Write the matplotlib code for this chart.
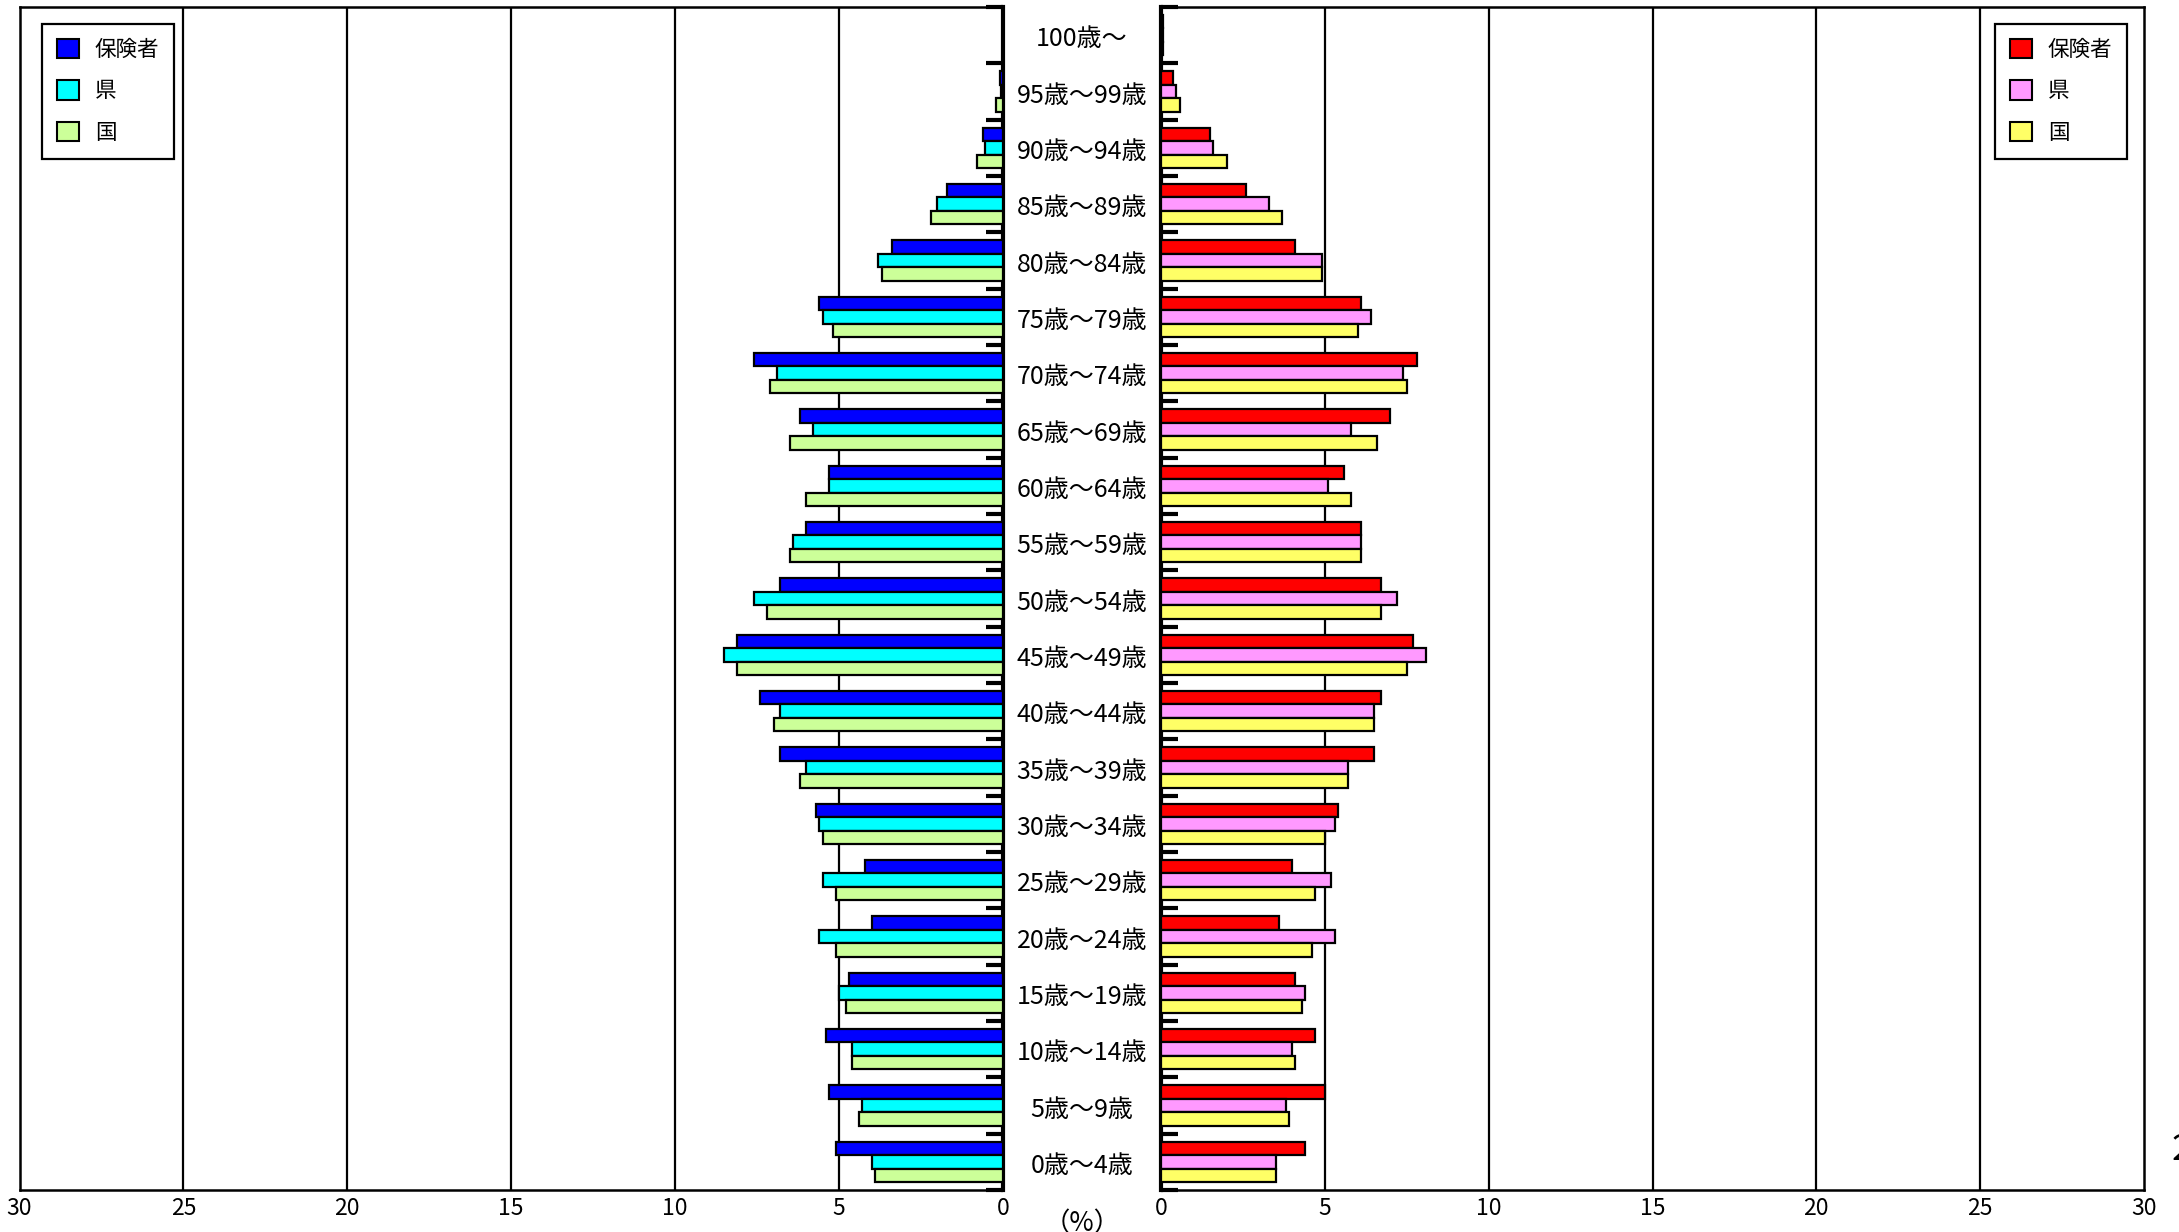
import numpy as np
import matplotlib
matplotlib.use('Agg')
import matplotlib.pyplot as plt
from matplotlib.patches import Patch

plt.rcParams['font.family'] = ['Noto Sans CJK JP', 'DejaVu Sans']

# 年齢区分 (下から上へ)
ages = ['0歳～4歳', '5歳～9歳', '10歳～14歳', '15歳～19歳', '20歳～24歳',
        '25歳～29歳', '30歳～34歳', '35歳～39歳', '40歳～44歳', '45歳～49歳',
        '50歳～54歳', '55歳～59歳', '60歳～64歳', '65歳～69歳', '70歳～74歳',
        '75歳～79歳', '80歳～84歳', '85歳～89歳', '90歳～94歳', '95歳～99歳',
        '100歳～']

# 左側 (%)
left_hoken = [5.1, 5.3, 5.4, 4.7, 4.0, 4.2, 5.7, 6.8, 7.4, 8.1,
              6.8, 6.0, 5.3, 6.2, 7.6, 5.6, 3.4, 1.7, 0.6, 0.1, 0.0]
left_ken = [4.0, 4.3, 4.6, 5.0, 5.6, 5.5, 5.6, 6.0, 6.8, 8.5,
            7.6, 6.4, 5.3, 5.8, 6.9, 5.5, 3.8, 2.0, 0.55, 0.07, 0.0]
left_kuni = [3.9, 4.4, 4.6, 4.8, 5.1, 5.1, 5.5, 6.2, 7.0, 8.1,
             7.2, 6.5, 6.0, 6.5, 7.1, 5.2, 3.7, 2.2, 0.8, 0.2, 0.0]

# 右側 (%)
right_hoken = [4.4, 5.0, 4.7, 4.1, 3.6, 4.0, 5.4, 6.5, 6.7, 7.7,
               6.7, 6.1, 5.6, 7.0, 7.8, 6.1, 4.1, 2.6, 1.5, 0.38, 0.07]
right_ken = [3.5, 3.8, 4.0, 4.4, 5.3, 5.2, 5.3, 5.7, 6.5, 8.1,
             7.2, 6.1, 5.1, 5.8, 7.4, 6.4, 4.9, 3.3, 1.6, 0.47, 0.05]
right_kuni = [3.5, 3.9, 4.1, 4.3, 4.6, 4.7, 5.0, 5.7, 6.5, 7.5,
              6.7, 6.1, 5.8, 6.6, 7.5, 6.0, 4.9, 3.7, 2.0, 0.58, 0.07]

series_names = ['保険者', '県', '国']
left_colors = ['#0000FF', '#00FFFF', '#CCFF99']
right_colors = ['#FF0000', '#FF99FF', '#FFFF66']
xticks = [0, 5, 10, 15, 20, 25, 30]

W, H = 2179, 1232
fig = plt.figure(figsize=(W / 100, H / 100), dpi=100)

ax_l = fig.add_axes([19.5 / W, (H - 1190) / H, (1003 - 19.5) / W, 1183 / H])
ax_r = fig.add_axes([1161 / W, (H - 1190) / H, (2144 - 1161) / W, 1183 / H])

y = np.arange(len(ages))
bh = 0.24
offsets = [bh, 0, -bh]


def draw(ax, data, colors, side):
    for vals, off, c in zip(data, offsets, colors):
        ax.barh(y + off, vals, height=bh, color=c, edgecolor='black',
                linewidth=1.6, zorder=3)
    ax.set_xlim(0, 30)
    ax.set_ylim(-0.5, len(ages) - 0.5)
    ax.set_xticks(xticks)
    ax.set_xticklabels([str(t) for t in xticks], fontsize=16.5)
    ax.tick_params(axis='x', length=0, pad=5)
    for v in xticks[1:-1]:
        ax.axvline(v, color='black', linewidth=1.6, zorder=1)
    ax.set_yticks(np.arange(-0.5, len(ages), 1.0))
    ax.set_yticklabels([])
    ax.tick_params(axis='y', direction='in', length=12, width=3,
                   left=(side == 'right'), right=(side == 'left'))
    for s in ax.spines.values():
        s.set_linewidth(1.8)
    if side == 'left':
        ax.invert_xaxis()
        ax.spines['right'].set_linewidth(3)
    else:
        ax.spines['left'].set_linewidth(3)


draw(ax_l, [left_hoken, left_ken, left_kuni], left_colors, 'left')
draw(ax_r, [right_hoken, right_ken, right_kuni], right_colors, 'right')

# 年齢ラベル (中央)
for i, lab in enumerate(ages):
    ax_l.annotate(lab, xy=(0, i), xycoords='data',
                  xytext=(1082, -3), textcoords=('figure pixels', 'offset points'),
                  ha='center', va='center', fontsize=18)

fig.text(1082 / W, 8 / H, '（%）', ha='center', va='center', fontsize=19)
fig.text(2172 / W, (H - 1150) / H, '2', ha='left', va='center', fontsize=26)

for ax, colors, anchor in [(ax_l, left_colors, (42 / W, 1 - 24 / H)),
                           (ax_r, right_colors, (1995 / W, 1 - 24 / H))]:
    handles = [Patch(facecolor=c, edgecolor='black', linewidth=1.5) for c in colors]
    leg = ax.legend(handles, series_names, loc='upper left',
                    bbox_to_anchor=anchor, bbox_transform=fig.transFigure,
                    fontsize=15.5, frameon=True, fancybox=False, framealpha=1,
                    edgecolor='black', handlelength=1.0, handleheight=1.0,
                    labelspacing=0.9, handletextpad=0.75, borderpad=0.7,
                    borderaxespad=0)
    leg.get_frame().set_linewidth(1.6)
    leg.set_zorder(5)

fig.savefig('out.png', dpi=100)
